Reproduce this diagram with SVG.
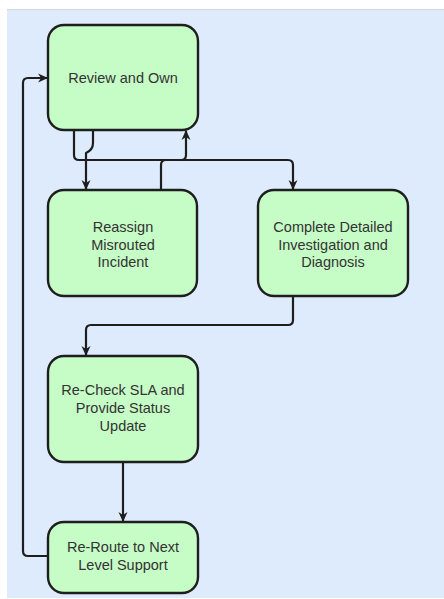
<svg xmlns="http://www.w3.org/2000/svg" width="444" height="599" viewBox="0 0 444 599">
<defs>
<style>
.node rect{fill:#c6fcc6;stroke:#1e1e1e;stroke-width:2.4}
.node text{font-family:"Liberation Sans",Arial,sans-serif;font-size:14.5px;fill:#333;text-anchor:middle}
.conn path{fill:none;stroke:#1e1e1e;stroke-width:2.2;stroke-linejoin:round}
</style>
<marker id="arr" viewBox="0 0 10 10" refX="9" refY="5" markerWidth="10" markerHeight="10" markerUnits="userSpaceOnUse" orient="auto">
<path d="M0,0.5 L10,5 L0,9.5 L3,5 z" fill="#1e1e1e"/>
</marker>
</defs>
<rect x="0" y="0" width="444" height="599" fill="#ffffff"/>
<rect x="7" y="10" width="437" height="588" fill="#deebfc"/>
<line x1="7" y1="9.5" x2="444" y2="9.5" stroke="#d4d8de" stroke-width="1"/>
<g class="conn" id="connectors">
<path d="M48,556 H28 Q23,556 23,551 V83 Q23,78 28,78 H47" marker-end="url(#arr)"/>
<path d="M74,131 V155 Q74,160 79,160 H288 Q293,160 293,165 V189" marker-end="url(#arr)"/>
<path d="M93,131 V143 Q93,150 86,153 V189" marker-end="url(#arr)"/>
<path d="M161,190 V165 Q161,160 166,160 H181 Q186,160 186,155 V131" marker-end="url(#arr)"/>
<path d="M293,297 V320 Q293,325 288,325 H91 Q86,325 86,330 V355" marker-end="url(#arr)"/>
<path d="M123,463 V521" marker-end="url(#arr)"/>
</g>
<g class="node" id="n1">
<rect x="48" y="25" width="150" height="105" rx="16"/>
<text x="123" y="83">Review and Own</text>
</g>
<g class="node" id="n2">
<rect x="48" y="190" width="149" height="106" rx="16"/>
<text x="123" y="232">Reassign</text>
<text x="123" y="249.5">Misrouted</text>
<text x="123" y="267">Incident</text>
</g>
<g class="node" id="n3">
<rect x="258" y="190" width="150" height="106" rx="16"/>
<text x="333" y="232">Complete Detailed</text>
<text x="333" y="249.5">Investigation and</text>
<text x="333" y="267">Diagnosis</text>
</g>
<g class="node" id="n4">
<rect x="48" y="356" width="150" height="106" rx="16"/>
<text x="123" y="395">Re-Check SLA and</text>
<text x="123" y="413">Provide Status</text>
<text x="123" y="431">Update</text>
</g>
<g class="node" id="n5">
<rect x="48" y="522" width="150" height="71" rx="16"/>
<text x="123" y="552">Re-Route to Next</text>
<text x="123" y="570">Level Support</text>
</g>
</svg>
